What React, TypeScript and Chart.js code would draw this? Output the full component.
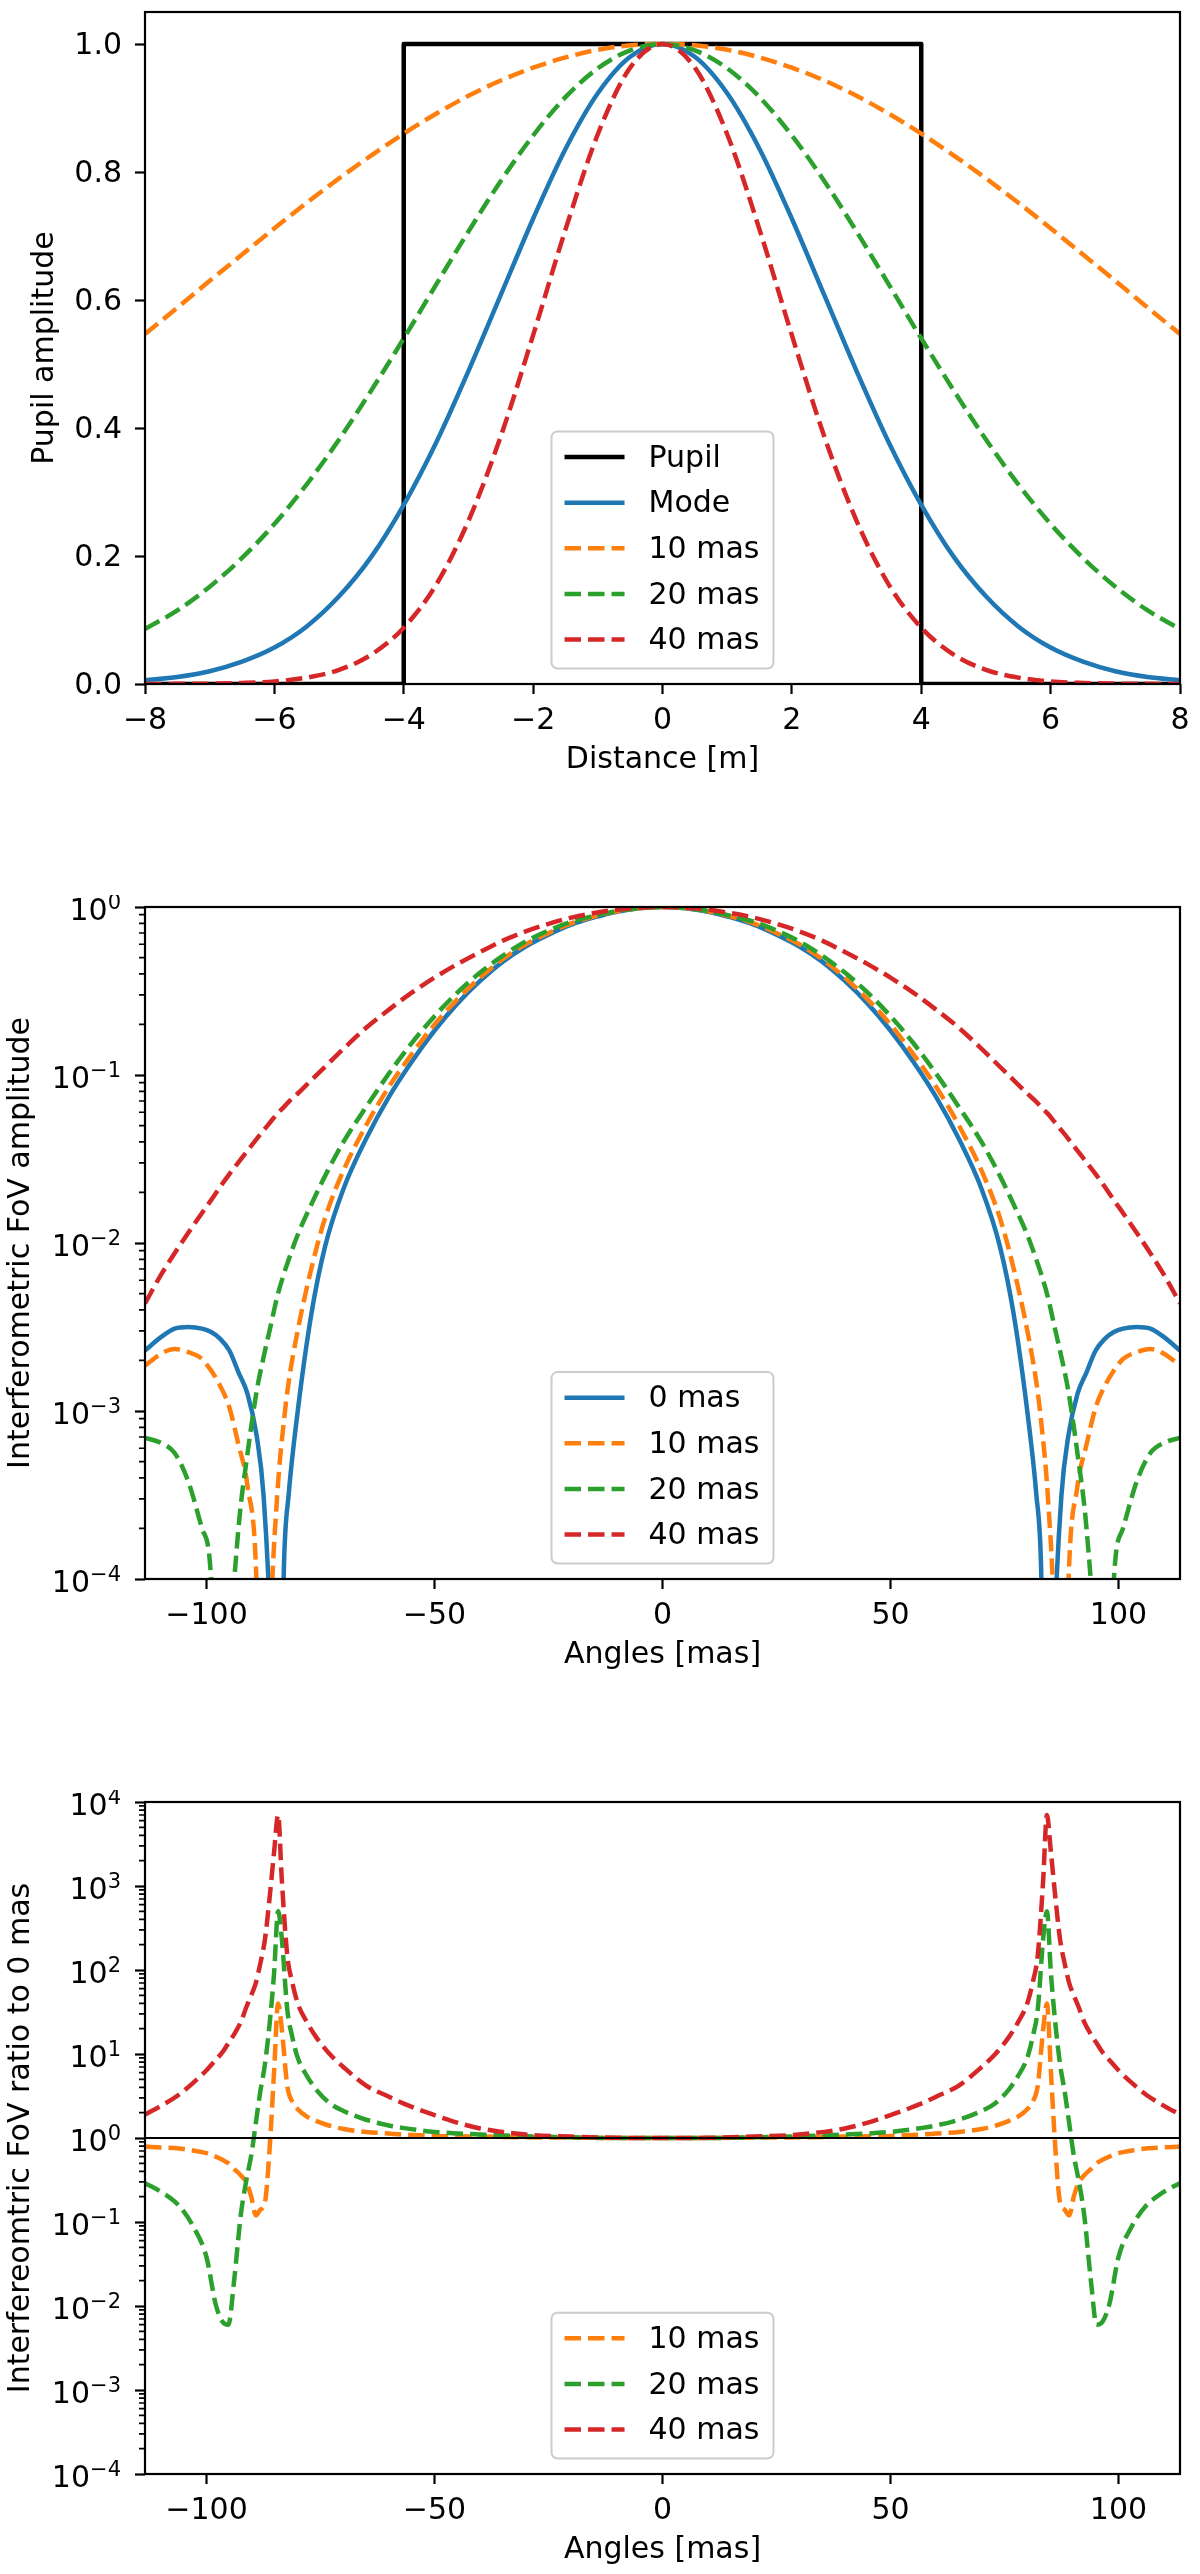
import React, { useEffect, useRef } from "react";
import { Chart, registerables } from "chart.js";

Chart.register(...registerables);

const FONT = '"DejaVu Sans", sans-serif';
Chart.defaults.font.family = FONT;
Chart.defaults.font.size = 30;
Chart.defaults.color = "#000";

const BLUE = "#1f77b4";
const ORANGE = "#ff7f0e";
const GREEN = "#2ca02c";
const RED = "#d62728";

// ---- top panel: pupil amplitude vs distance ----
const distance = [-8, -7.5, -7, -6.5, -6, -5.5, -5, -4.5, -4, -3.5, -3, -2.5, -2, -1.5, -1, -0.5, 0, 0.5, 1, 1.5, 2, 2.5, 3, 3.5, 4, 4.5, 5, 5.5, 6, 6.5, 7, 7.5, 8];
const modeAmp = [0.006, 0.011, 0.02, 0.035, 0.057, 0.09, 0.137, 0.199, 0.28, 0.377, 0.489, 0.608, 0.727, 0.836, 0.923, 0.98, 1, 0.98, 0.923, 0.836, 0.727, 0.608, 0.489, 0.377, 0.28, 0.199, 0.137, 0.09, 0.057, 0.035, 0.02, 0.011, 0.006];
const amp10 = [0.547, 0.588, 0.63, 0.671, 0.712, 0.752, 0.79, 0.826, 0.86, 0.891, 0.919, 0.943, 0.963, 0.979, 0.991, 0.998, 1, 0.998, 0.991, 0.979, 0.963, 0.943, 0.919, 0.891, 0.86, 0.826, 0.79, 0.752, 0.712, 0.671, 0.63, 0.588, 0.547];
const amp20 = [0.086, 0.115, 0.152, 0.197, 0.25, 0.312, 0.382, 0.459, 0.54, 0.624, 0.707, 0.786, 0.857, 0.917, 0.962, 0.99, 1, 0.99, 0.962, 0.917, 0.857, 0.786, 0.707, 0.624, 0.54, 0.459, 0.382, 0.312, 0.25, 0.197, 0.152, 0.115, 0.086];
const amp40 = [0.0001, 0.0002, 0.0006, 0.0016, 0.004, 0.01, 0.022, 0.046, 0.088, 0.155, 0.255, 0.387, 0.545, 0.71, 0.859, 0.963, 1, 0.963, 0.859, 0.71, 0.545, 0.387, 0.255, 0.155, 0.088, 0.046, 0.022, 0.01, 0.004, 0.0016, 0.0006, 0.0002, 0.0001];
const pupilX = [-8, -4, -4, 4, 4, 8];
const pupilY = [0, 0, 1, 1, 0, 0];
const distanceTicks = [-8, -6, -4, -2, 0, 2, 4, 6, 8];
const amplitudeTicks = [0, 0.2, 0.4, 0.6, 0.8, 1.0];

// ---- middle panel: interferometric FoV amplitude ----
const fovAngles = [-113.5, -110, -107, -104, -101, -99, -97, -95, -93, -91, -89, -87.5, -86, -84.5, -83, -82, -80, -77, -74, -70, -65, -60, -55, -50, -45, -40, -35, -30, -25, -20, -15, -10, -5, 0, 5, 10, 15, 20, 25, 30, 35, 40, 45, 50, 55, 60, 65, 70, 74, 77, 80, 82, 83, 84.5, 86, 87.5, 89, 91, 93, 95, 97, 99, 101, 104, 107, 110, 113.5];
const fov0 = [0.00229, 0.00275, 0.00309, 0.00316, 0.00309, 0.00295, 0.00269, 0.00229, 0.0017, 0.00126, 0.000708, 0.000316, 0.00005, 1e-6, 0.000126, 0.000316, 0.001, 0.0038, 0.00955, 0.0209, 0.0417, 0.0741, 0.12, 0.184, 0.266, 0.363, 0.473, 0.582, 0.684, 0.785, 0.867, 0.938, 0.984, 1, 0.984, 0.938, 0.867, 0.785, 0.684, 0.582, 0.473, 0.363, 0.266, 0.184, 0.12, 0.0741, 0.0417, 0.0209, 0.00955, 0.0038, 0.001, 0.000316, 0.000126, 1e-6, 0.00005, 0.000316, 0.000708, 0.00126, 0.0017, 0.00229, 0.00269, 0.00295, 0.00309, 0.00316, 0.00309, 0.00275, 0.00229];
const fov10 = [0.00186, 0.00219, 0.00234, 0.00224, 0.00204, 0.00174, 0.00141, 0.00105, 0.000631, 0.000355, 0.000089, 1e-6, 0.00005, 0.000316, 0.000891, 0.00148, 0.00302, 0.00708, 0.0141, 0.0269, 0.0501, 0.0851, 0.133, 0.2, 0.282, 0.38, 0.49, 0.6, 0.7, 0.8, 0.877, 0.942, 0.986, 1, 0.986, 0.942, 0.877, 0.8, 0.7, 0.6, 0.49, 0.38, 0.282, 0.2, 0.133, 0.0851, 0.0501, 0.0269, 0.0141, 0.00708, 0.00302, 0.00148, 0.000891, 0.000316, 0.00005, 1e-6, 0.000089, 0.000355, 0.000631, 0.00105, 0.00141, 0.00174, 0.00204, 0.00224, 0.00234, 0.00219, 0.00186];
const fov20 = [0.000692, 0.000646, 0.000562, 0.00038, 0.0002, 0.0001, 1e-6, 0.0000316, 0.0002, 0.000562, 0.00132, 0.00209, 0.00316, 0.00479, 0.00661, 0.00794, 0.0112, 0.017, 0.0251, 0.0398, 0.0646, 0.102, 0.155, 0.224, 0.309, 0.407, 0.513, 0.624, 0.724, 0.817, 0.885, 0.946, 0.986, 1, 0.986, 0.946, 0.885, 0.817, 0.724, 0.624, 0.513, 0.407, 0.309, 0.224, 0.155, 0.102, 0.0646, 0.0398, 0.0251, 0.017, 0.0112, 0.00794, 0.00661, 0.00479, 0.00316, 0.00209, 0.00132, 0.000562, 0.0002, 0.0000316, 1e-6, 0.0001, 0.0002, 0.00038, 0.000562, 0.000646, 0.000692];
const fov40 = [0.00437, 0.00646, 0.0087, 0.0115, 0.0151, 0.018, 0.0216, 0.0257, 0.0302, 0.0355, 0.0417, 0.0468, 0.0525, 0.0589, 0.0646, 0.0692, 0.0776, 0.0933, 0.112, 0.143, 0.191, 0.245, 0.309, 0.38, 0.457, 0.54, 0.631, 0.716, 0.794, 0.865, 0.92, 0.964, 0.991, 1, 0.991, 0.964, 0.92, 0.865, 0.794, 0.716, 0.631, 0.54, 0.457, 0.38, 0.309, 0.245, 0.191, 0.143, 0.112, 0.0933, 0.0776, 0.0692, 0.0646, 0.0589, 0.0525, 0.0468, 0.0417, 0.0355, 0.0302, 0.0257, 0.0216, 0.018, 0.0151, 0.0115, 0.0087, 0.00646, 0.00437];
const angleTicks = [-100, -50, 0, 50, 100];
const fovDecades = [1e-4, 1e-3, 1e-2, 1e-1, 1];

// ---- bottom panel: FoV ratio to 0 mas ----
const ratioAngles = [-113.5, -109.5, -106, -103, -100, -98, -96.5, -95.2, -94, -92.5, -91.2, -90.2, -89.2, -88.2, -87.2, -86.2, -85.2, -84.3, -83.5, -82.3, -81.2, -80, -78, -76, -73, -70, -65, -60, -57, -50, -46, -40, -30, -20, -10, 0, 10, 20, 30, 40, 46, 50, 57, 60, 65, 70, 73, 76, 78, 80, 81.2, 82.3, 83.5, 84.3, 85.2, 86.2, 87.2, 88.2, 89.2, 90.2, 91.2, 92.5, 94, 95.2, 96.5, 98, 100, 103, 106, 109.5, 113.5];
const ratio10 = [0.79, 0.77, 0.75, 0.71, 0.66, 0.6, 0.55, 0.5, 0.43, 0.36, 0.29, 0.2, 0.12, 0.14, 0.17, 0.7, 6, 40, 20, 4.2, 2.7, 2.2, 1.8, 1.6, 1.4, 1.28, 1.18, 1.13, 1.1, 1.06, 1.05, 1.04, 1.02, 1.01, 1, 1, 1, 1.01, 1.02, 1.04, 1.05, 1.06, 1.1, 1.13, 1.18, 1.28, 1.4, 1.6, 1.8, 2.2, 2.7, 4.2, 20, 40, 6, 0.7, 0.17, 0.14, 0.12, 0.2, 0.29, 0.36, 0.43, 0.5, 0.55, 0.6, 0.66, 0.71, 0.75, 0.77, 0.79];
const ratio20 = [0.29, 0.22, 0.155, 0.09, 0.038, 0.0105, 0.0065, 0.006, 0.019, 0.12, 0.33, 0.62, 1.5, 3.6, 7.5, 22, 90, 500, 240, 34, 16, 9, 5.5, 3.8, 2.6, 2.1, 1.65, 1.41, 1.32, 1.18, 1.14, 1.1, 1.05, 1.02, 1, 1, 1, 1.02, 1.05, 1.1, 1.14, 1.18, 1.32, 1.41, 1.65, 2.1, 2.6, 3.8, 5.5, 9, 16, 34, 240, 500, 90, 22, 7.5, 3.6, 1.5, 0.62, 0.33, 0.12, 0.019, 0.006, 0.0065, 0.0105, 0.038, 0.09, 0.155, 0.22, 0.29];
const ratio40 = [1.9, 2.5, 3.3, 4.5, 6.4, 8.5, 10.5, 13.5, 17, 24, 37, 50, 70, 120, 230, 700, 2500, 7000, 1200, 150, 71, 40, 24, 16, 10, 7, 4.2, 3.1, 2.6, 1.87, 1.58, 1.3, 1.1, 1.04, 1.005, 1, 1.005, 1.04, 1.1, 1.3, 1.58, 1.87, 2.6, 3.1, 4.2, 7, 10, 16, 24, 40, 71, 150, 1200, 7000, 2500, 700, 230, 120, 70, 50, 37, 24, 17, 13.5, 10.5, 8.5, 6.4, 4.5, 3.3, 2.5, 1.9];
const unityX = [-113.5, 113.5];
const unityY = [1, 1];
const ratioDecades = [1e-4, 1e-3, 1e-2, 1e-1, 1, 1e1, 1e2, 1e3, 1e4];

type Trace = {
  label?: string;
  color: string;
  xs: number[];
  ys: number[];
  dashed?: boolean;
  width?: number;
  straight?: boolean;
};

type PanelSpec = {
  traces: Trace[];
  xMin: number;
  xMax: number;
  xTicks: number[];
  xTitle: string;
  log: boolean;
  yMin: number;
  yMax: number;
  yTicks: number[];
  yTitle: string;
  yTitlePad: number;
};

const minus = (v: number) => (v < 0 ? "\u2212" + Math.abs(v) : String(v));

// spines, minor log ticks, 10^n labels and a matplotlib-like legend
const mplDecor = {
  id: "mplDecor",
  afterDatasetsDraw(chart: any) {
    const { ctx, chartArea: a } = chart;
    const y = chart.scales.y;
    ctx.save();
    ctx.setLineDash([]);
    ctx.strokeStyle = "#000";
    ctx.lineWidth = 2.2;
    ctx.strokeRect(a.left, a.top, a.right - a.left, a.bottom - a.top);

    if (y.type === "logarithmic") {
      const decades: number[] = y.ticks.map((t: any) => t.value);
      ctx.lineWidth = 1.7;
      ctx.beginPath();
      decades.slice(0, -1).forEach((d) => {
        for (let k = 2; k < 10; k++) {
          const py = y.getPixelForValue(k * d);
          ctx.moveTo(a.left, py);
          ctx.lineTo(a.left - 6, py);
        }
      });
      ctx.stroke();

      ctx.fillStyle = "#000";
      ctx.textAlign = "left";
      ctx.textBaseline = "alphabetic";
      decades.forEach((d) => {
        const exp = minus(Math.round(Math.log10(d)));
        const py = y.getPixelForValue(d);
        ctx.font = `21px ${FONT}`;
        const ew = ctx.measureText(exp).width;
        ctx.font = `30px ${FONT}`;
        const bw = ctx.measureText("10").width;
        const right = a.left - 24;
        ctx.fillText("10", right - ew - bw, py + 13);
        ctx.font = `21px ${FONT}`;
        ctx.fillText(exp, right - ew, py + 2);
      });
    }

    const items = chart.data.datasets.filter((d: any) => d.label);
    if (items.length) {
      ctx.font = `30px ${FONT}`;
      const textW = Math.max(...items.map((d: any) => ctx.measureText(d.label).width));
      const padL = 13;
      const handle = 60;
      const gap = 24;
      const padR = 14;
      const rowH = 45.6;
      const w = padL + handle + gap + textW + padR;
      const h = 25.6 + (items.length - 1) * rowH + 29;
      const x0 = (a.left + a.right) / 2 - w / 2;
      const y0 = a.bottom - 15.5 - h;
      const r = 6;
      ctx.beginPath();
      ctx.moveTo(x0 + r, y0);
      ctx.arcTo(x0 + w, y0, x0 + w, y0 + h, r);
      ctx.arcTo(x0 + w, y0 + h, x0, y0 + h, r);
      ctx.arcTo(x0, y0 + h, x0, y0, r);
      ctx.arcTo(x0, y0, x0 + w, y0, r);
      ctx.closePath();
      ctx.fillStyle = "rgba(255,255,255,0.8)";
      ctx.fill();
      ctx.strokeStyle = "#cccccc";
      ctx.lineWidth = 2;
      ctx.stroke();

      items.forEach((d: any, i: number) => {
        const yy = y0 + 25.6 + i * rowH;
        ctx.strokeStyle = d.borderColor;
        ctx.lineWidth = d.borderWidth;
        ctx.setLineDash(d.borderDash);
        ctx.lineCap = "butt";
        ctx.beginPath();
        ctx.moveTo(x0 + padL, yy);
        ctx.lineTo(x0 + padL + handle, yy);
        ctx.stroke();
        ctx.setLineDash([]);
        ctx.fillStyle = "#000";
        ctx.textAlign = "left";
        ctx.textBaseline = "middle";
        ctx.fillText(d.label, x0 + padL + handle + gap, yy + 2);
      });
    }
    ctx.restore();
  },
};

const toDataset = (t: Trace, i: number) => ({
  label: t.label,
  data: t.xs.map((x, k) => ({ x, y: t.ys[k] })),
  showLine: true,
  borderColor: t.color,
  backgroundColor: t.color,
  borderWidth: t.width ?? 4.5,
  borderDash: t.dashed ? [16.5, 7] : [],
  borderJoinStyle: "round",
  pointRadius: 0,
  pointHoverRadius: 0,
  tension: 0,
  cubicInterpolationMode: t.straight ? "default" : "monotone",
  order: -i,
});

const zeroPadding = (s: any) => {
  s.paddingLeft = 0;
  s.paddingRight = 0;
  s.paddingTop = 0;
  s.paddingBottom = 0;
};

const tickMarks = {
  drawOnChartArea: false,
  drawTicks: true,
  tickLength: 10,
  tickWidth: 2.2,
  tickColor: "#000",
};

const buildConfig = (p: PanelSpec): any => ({
  type: "scatter",
  data: { datasets: p.traces.map(toDataset) },
  options: {
    responsive: true,
    maintainAspectRatio: false,
    animation: false,
    events: [],
    layout: { padding: { top: 12, right: 20, bottom: 0, left: 0 }, autoPadding: false },
    elements: { line: { capBezierPoints: false } },
    plugins: { legend: { display: false }, tooltip: { enabled: false } },
    scales: {
      x: {
        type: "linear",
        min: p.xMin,
        max: p.xMax,
        afterBuildTicks: (s: any) => {
          s.ticks = p.xTicks.map((value) => ({ value }));
        },
        afterFit: (s: any) => {
          s.height = 100;
          zeroPadding(s);
        },
        ticks: {
          autoSkip: false,
          maxRotation: 0,
          minRotation: 0,
          padding: 9,
          font: { size: 30 },
          callback: (v: number) => minus(v),
        },
        grid: tickMarks,
        border: { display: false },
        title: { display: true, text: p.xTitle, font: { size: 30 }, padding: { top: 0, bottom: 5.5 } },
      },
      y: {
        type: p.log ? "logarithmic" : "linear",
        min: p.yMin,
        max: p.yMax,
        afterBuildTicks: (s: any) => {
          s.ticks = p.yTicks.map((value) => ({ value }));
        },
        afterFit: (s: any) => {
          s.width = 145;
          zeroPadding(s);
        },
        ticks: {
          display: !p.log,
          autoSkip: false,
          padding: 13,
          labelOffset: 2,
          font: { size: 30 },
          callback: (v: number) => Number(v).toFixed(1),
        },
        grid: tickMarks,
        border: { display: false },
        title: { display: true, text: p.yTitle, font: { size: 30 }, padding: { top: p.yTitlePad, bottom: 0 } },
      },
    },
  },
  plugins: [mplDecor],
});

const pupilPanel: PanelSpec = {
  traces: [
    { label: "Pupil", color: "#000000", xs: pupilX, ys: pupilY, straight: true },
    { label: "Mode", color: BLUE, xs: distance, ys: modeAmp },
    { label: "10 mas", color: ORANGE, xs: distance, ys: amp10, dashed: true },
    { label: "20 mas", color: GREEN, xs: distance, ys: amp20, dashed: true },
    { label: "40 mas", color: RED, xs: distance, ys: amp40, dashed: true },
  ],
  xMin: -8,
  xMax: 8,
  xTicks: distanceTicks,
  xTitle: "Distance [m]",
  log: false,
  yMin: 0,
  yMax: 1.05,
  yTicks: amplitudeTicks,
  yTitle: "Pupil amplitude",
  yTitlePad: 27,
};

const fovPanel: PanelSpec = {
  traces: [
    { label: "0 mas", color: BLUE, xs: fovAngles, ys: fov0 },
    { label: "10 mas", color: ORANGE, xs: fovAngles, ys: fov10, dashed: true },
    { label: "20 mas", color: GREEN, xs: fovAngles, ys: fov20, dashed: true },
    { label: "40 mas", color: RED, xs: fovAngles, ys: fov40, dashed: true },
  ],
  xMin: -113.5,
  xMax: 113.5,
  xTicks: angleTicks,
  xTitle: "Angles [mas]",
  log: true,
  yMin: 1e-4,
  yMax: 1,
  yTicks: fovDecades,
  yTitle: "Interferometric FoV amplitude",
  yTitlePad: 3,
};

const ratioPanel: PanelSpec = {
  traces: [
    { label: "10 mas", color: ORANGE, xs: ratioAngles, ys: ratio10, dashed: true },
    { label: "20 mas", color: GREEN, xs: ratioAngles, ys: ratio20, dashed: true },
    { label: "40 mas", color: RED, xs: ratioAngles, ys: ratio40, dashed: true },
    { color: "#000000", xs: unityX, ys: unityY, width: 2, straight: true },
  ],
  xMin: -113.5,
  xMax: 113.5,
  xTicks: angleTicks,
  xTitle: "Angles [mas]",
  log: true,
  yMin: 1e-4,
  yMax: 1e4,
  yTicks: ratioDecades,
  yTitle: "Interfereomtric FoV ratio to 0 mas",
  yTitlePad: 3,
};

const Panel: React.FC<{ top: number; spec: PanelSpec }> = ({ top, spec }) => {
  const canvasRef = useRef<HTMLCanvasElement | null>(null);

  useEffect(() => {
    if (!canvasRef.current) return;
    const chart = new Chart(canvasRef.current, buildConfig(spec));
    return () => {
      chart.destroy();
    };
  }, [spec]);

  return (
    <div style={{ position: "absolute", left: 0, top, width: 1200, height: 784 }}>
      <canvas ref={canvasRef} />
    </div>
  );
};

export default function App() {
  return (
    <div
      style={{
        position: "absolute",
        left: 0,
        top: 0,
        width: 1200,
        height: 2574,
        background: "#ffffff",
        overflow: "hidden",
      }}
    >
      <Panel top={0} spec={pupilPanel} />
      <Panel top={895} spec={fovPanel} />
      <Panel top={1790} spec={ratioPanel} />
    </div>
  );
}
